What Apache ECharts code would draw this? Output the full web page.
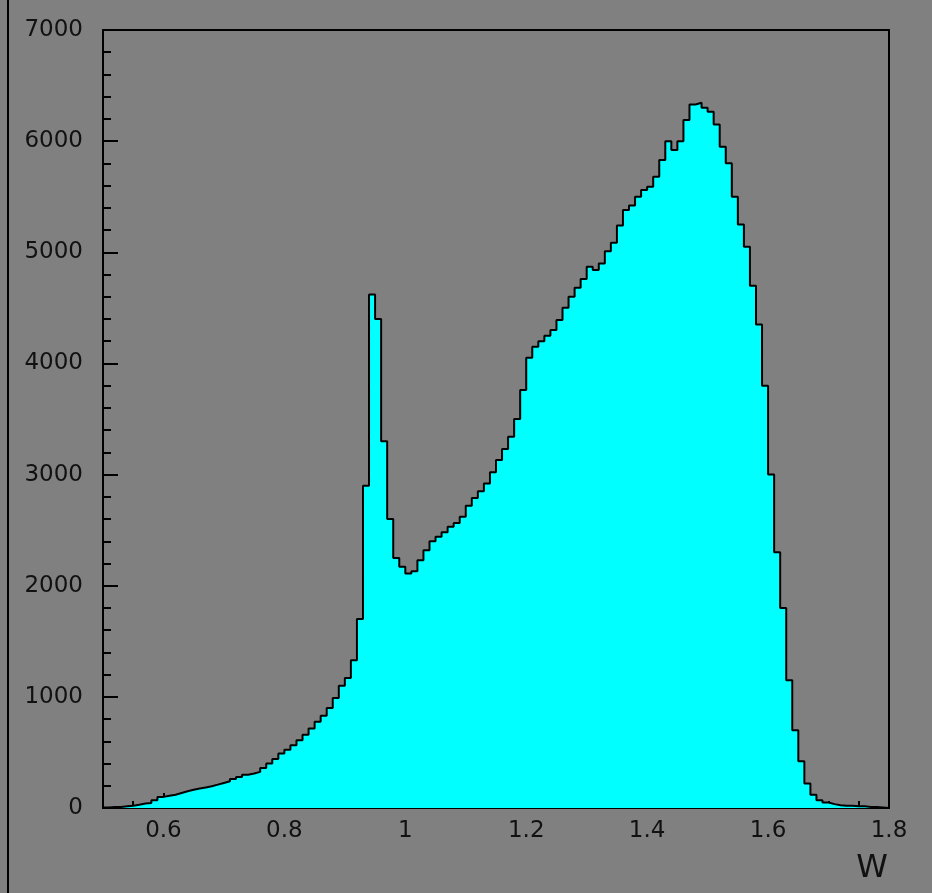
<!DOCTYPE html>
<html>
<head>
<meta charset="utf-8">
<script src="https://cdn.jsdelivr.net/npm/echarts@6/dist/echarts.min.js"></script>
<style>
    html, body {
        margin: 0;
        padding: 0;
        background: #808080;
    }
    #chart {
        width: 932px;
        height: 893px;
    }
</style>
</head>
<body>
<div id="chart"></div>
<script>
// histogram of W, bins of 0.01 from 0.5 to 1.8
const binStart = 0.5;
const binWidth = 0.01;

const counts = [
    5, 10, 8, 15, 20, 30, 40, 45, 70, 100,
    110, 120, 135, 150, 165, 175, 185, 195, 210, 225,
    240, 260, 280, 300, 310, 325, 360, 400, 440, 490,
    525, 565, 610, 660, 715, 775, 830, 900, 990, 1100,
    1170, 1330, 1700, 2900, 4620, 4400, 3300, 2600, 2250, 2170,
    2110, 2130, 2230, 2320, 2400, 2440, 2480, 2530, 2565, 2620,
    2720, 2790, 2850, 2920, 3020, 3130, 3230, 3340, 3500, 3760,
    4050, 4150, 4200, 4250, 4300, 4390, 4500, 4600, 4680, 4760,
    4870, 4840, 4900, 5010, 5085, 5240, 5380, 5420, 5500, 5560,
    5590, 5680, 5830, 6000, 5920, 6000, 6190, 6330, 6345, 6300,
    6265, 6150, 5950, 5800, 5500, 5250, 5050, 4700, 4350, 3800,
    3000, 2300, 1800, 1150, 700, 420, 220, 120, 70, 50,
    35, 25, 20, 20, 15, 15, 10, 8, 5, 0
];

const xName = 'W';

const chart = echarts.init(document.getElementById('chart'));

const stepData = counts.map((c, i) => [+(binStart + i * binWidth).toFixed(3), c]);
stepData.push([+(binStart + counts.length * binWidth).toFixed(3), counts[counts.length - 1]]);

const labelFont = {
    color: '#111',
    fontFamily: 'DejaVu Sans',
    fontSize: 23
};

chart.setOption({
    backgroundColor: '#808080',
    animation: false,
    grid: {
        left: 103,
        right: 43,
        top: 30,
        bottom: 85,
        show: true,
        backgroundColor: '#808080',
        borderColor: '#000',
        borderWidth: 2,
        outerBoundsMode: 'none'
    },
    xAxis: {
        type: 'value',
        min: 0.5,
        max: 1.8,
        splitNumber: 7,
        axisLine: { lineStyle: { color: '#000', width: 2 } },
        axisTick: { inside: true, length: 15, lineStyle: { color: '#000', width: 2 } },
        minorTick: { show: true, splitNumber: 4, length: 7, lineStyle: { color: '#000', width: 2 } },
        splitLine: { show: false },
        axisLabel: Object.assign({ margin: 12, showMinLabel: false }, labelFont)
    },
    yAxis: {
        type: 'value',
        min: 0,
        max: 7000,
        interval: 1000,
        axisLine: { show: true, lineStyle: { color: '#000', width: 2 } },
        axisTick: { show: true, inside: true, length: 15, lineStyle: { color: '#000', width: 2 } },
        minorTick: { show: true, splitNumber: 5, length: 8, lineStyle: { color: '#000', width: 2 } },
        splitLine: { show: false },
        axisLabel: Object.assign({ margin: 20, formatter: v => String(v) }, labelFont)
    },
    graphic: [
        {
            type: 'line',
            shape: { x1: 8, y1: 0, x2: 8, y2: 893 },
            style: { stroke: '#000', lineWidth: 2 }
        },
        {
            type: 'text',
            right: 44,
            top: 853,
            style: {
                text: xName,
                fill: '#111',
                font: '32px "DejaVu Sans"'
            }
        }
    ],
    series: [{
        type: 'line',
        step: 'end',
        data: stepData,
        symbol: 'none',
        lineStyle: { color: '#000', width: 2 },
        areaStyle: { color: '#00ffff', opacity: 1 }
    }]
});
</script>
</body>
</html>
